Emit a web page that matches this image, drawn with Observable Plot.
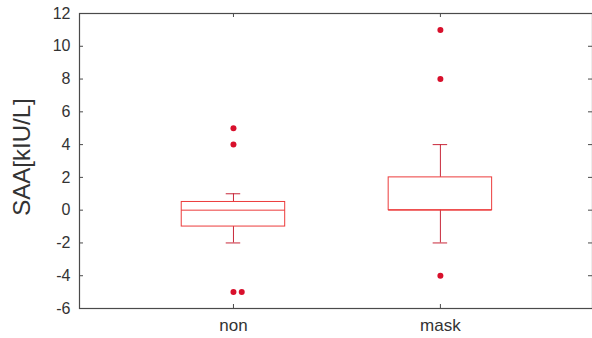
<!DOCTYPE html>
<html>
<head>
<meta charset="utf-8">
<script src="https://cdn.jsdelivr.net/npm/d3@7"></script>
<script src="https://cdn.jsdelivr.net/npm/@observablehq/plot@0.6"></script>
<style>
  html, body { margin: 0; padding: 0; background: #fff; }
  #chart svg { display: block; font-family: "Liberation Sans", Arial, sans-serif; }
</style>
</head>
<body>
<div id="chart"></div>
<script>
// ---- data ----
const categories = ["non", "mask"];
const q1 = [-1, 0];
const medians = [0, 0];
const q3 = [0.5, 2];
const whiskerLow = [-2, -2];
const whiskerHigh = [1, 4];
const outlierGroup = ["non", "non", "non", "non", "mask", "mask", "mask"];
const outlierValue = [5, 4, -5, -5, 11, 8, -4];
const yTicks = [-6, -4, -2, 0, 2, 4, 6, 8, 10, 12];
const yLabel = "SAA[kIU/L]";

// ---- derived tables ----
const pos = c => categories.indexOf(c) + 1;
const catPositions = categories.map(pos);
const boxHalf = 0.25, capHalf = 0.035;
const boxes = categories.map((c, i) => ({
  c, x: i + 1, q1: q1[i], med: medians[i], q3: q3[i], lo: whiskerLow[i], hi: whiskerHigh[i]
}));
const seen = new Map();
const outliers = outlierGroup.map((g, i) => {
  const key = g + "|" + outlierValue[i];
  const k = seen.get(key) || 0;
  seen.set(key, k + 1);
  return {x: pos(g) + k * 0.04, y: outlierValue[i]};
});

const W = 592, H = 338, ML = 79, MR = 0, MT = 13, MB = 30;
const frameW = W - ML - MR, frameH = H - MT - MB, tick = 4;

const red = "#ec3b3b";
const redDark = "#c8283a";
const axisColor = "#4a4a4a";

const chart = Plot.plot({
  width: W,
  height: H,
  marginLeft: ML,
  marginRight: MR,
  marginTop: MT,
  marginBottom: MB,
  style: {fontFamily: "'Liberation Sans', Arial, sans-serif", color: "#333"},
  x: {type: "linear", domain: [0.256, 2.735], axis: null},
  y: {domain: [-6, 12], axis: null},
  marks: [
    // tick labels
    Plot.axisY(yTicks, {anchor: "left", tickSize: 0, tickPadding: 9, fontSize: 16, tickFormat: d => String(d), label: null, fill: "#333"}),
    Plot.axisX(catPositions, {anchor: "bottom", tickSize: 0, tickPadding: 10, fontSize: 17, tickFormat: d => categories[d - 1], label: null, fill: "#333"}),
    // inward ticks on all four sides, MATLAB style
    Plot.tickY(yTicks, {y: d => d, insetRight: frameW - tick, stroke: axisColor}),
    Plot.tickY(yTicks, {y: d => d, insetLeft: frameW - tick, stroke: axisColor}),
    Plot.tickX(catPositions, {x: d => d, insetTop: frameH - tick, stroke: axisColor}),
    Plot.tickX(catPositions, {x: d => d, insetBottom: frameH - tick, stroke: axisColor}),
    Plot.frame({stroke: axisColor, strokeWidth: 1.2}),
    // whiskers
    Plot.ruleX(boxes, {x: "x", y1: "lo", y2: "q1", stroke: redDark}),
    Plot.ruleX(boxes, {x: "x", y1: "q3", y2: "hi", stroke: redDark}),
    Plot.ruleY(boxes, {y: "lo", x1: d => d.x - capHalf, x2: d => d.x + capHalf, stroke: redDark}),
    Plot.ruleY(boxes, {y: "hi", x1: d => d.x - capHalf, x2: d => d.x + capHalf, stroke: redDark}),
    // boxes
    Plot.rect(boxes, {x1: d => d.x - boxHalf, x2: d => d.x + boxHalf, y1: "q1", y2: "q3", stroke: red, fill: "none", strokeWidth: 1}),
    Plot.ruleY(boxes, {y: "med", x1: d => d.x - boxHalf, x2: d => d.x + boxHalf, stroke: red}),
    // outliers
    Plot.dot(outliers, {x: "x", y: "y", r: 3, fill: "#d8102c", stroke: "none"}),
    // y label
    Plot.text([yLabel], {frameAnchor: "left", textAnchor: "middle", rotate: -90, dx: -57, dy: -4, fontSize: 24, fill: "#333"})
  ]
});
document.getElementById("chart").appendChild(chart);
</script>
</body>
</html>
